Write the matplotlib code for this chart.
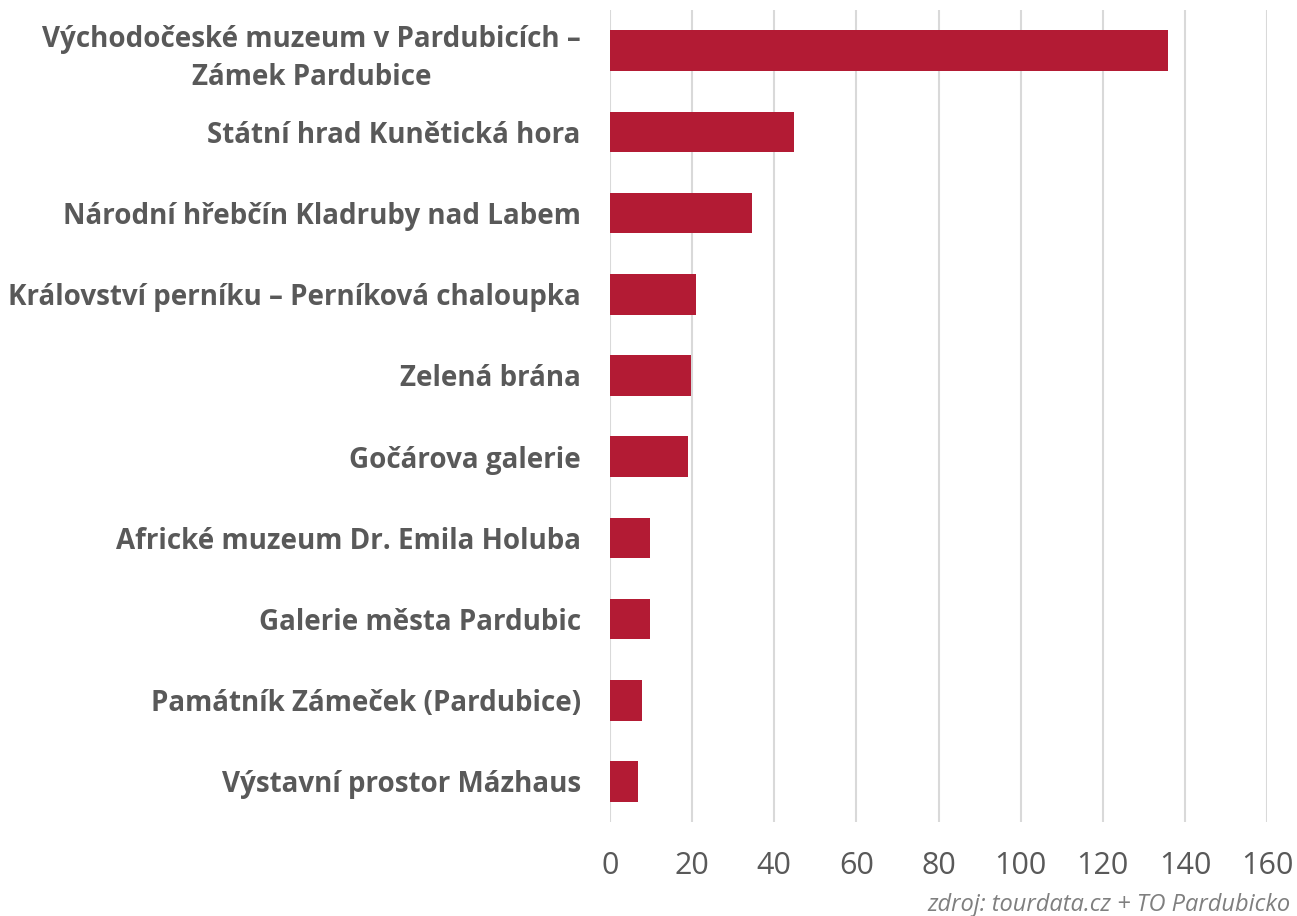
import matplotlib.pyplot as plt

# data
categories = [
    "Východočeské muzeum v Pardubicích –\nZámek Pardubice",
    "Státní hrad Kunětická hora",
    "Národní hřebčín Kladruby nad Labem",
    "Království perníku – Perníková chaloupka",
    "Zelená brána",
    "Gočárova galerie",
    "Africké muzeum Dr. Emila Holuba",
    "Galerie města Pardubic",
    "Památník Zámeček (Pardubice)",
    "Výstavní prostor Mázhaus",
]
values = [136, 44.8, 34.6, 21, 19.7, 19, 9.7, 9.7, 7.8, 6.8]
xticks = [0, 20, 40, 60, 80, 100, 120, 140, 160]

text_col = "#595959"
bar_col = "#b31b34"

fig = plt.figure(figsize=(12.97, 9.16), dpi=100)
ax = fig.add_axes([610 / 1297, 1 - 822 / 916, 657 / 1297, 812 / 916])

pos = list(range(len(categories)))
ax.barh(pos, values, height=0.5, color=bar_col, zorder=3)

ax.set_ylim(len(categories) - 0.5, -0.5)
ax.set_xlim(0, 160)
ax.set_xticks(xticks)
ax.set_yticks(pos)
ax.set_yticklabels(categories, fontsize=20, fontweight="bold", color=text_col,
                   family="Open Sans", linespacing=1.4, ha="right",
                   multialignment="center")
ax.set_xticklabels([str(t) for t in xticks], fontsize=22, color=text_col,
                   family="Open Sans")
ax.tick_params(axis="y", length=0, pad=21)
ax.tick_params(axis="x", length=0, pad=21)

ax.grid(axis="x", color="#d9d9d9", linewidth=1.5, zorder=0)
for s in ax.spines.values():
    s.set_visible(False)

fig.text(1290 / 1297, 1 - 905 / 916, "zdroj: tourdata.cz + TO Pardubicko",
         ha="right", va="center", fontsize=17, style="italic", color="#7f7f7f",
         family="Open Sans")

fig.savefig("out.png", dpi=100)
